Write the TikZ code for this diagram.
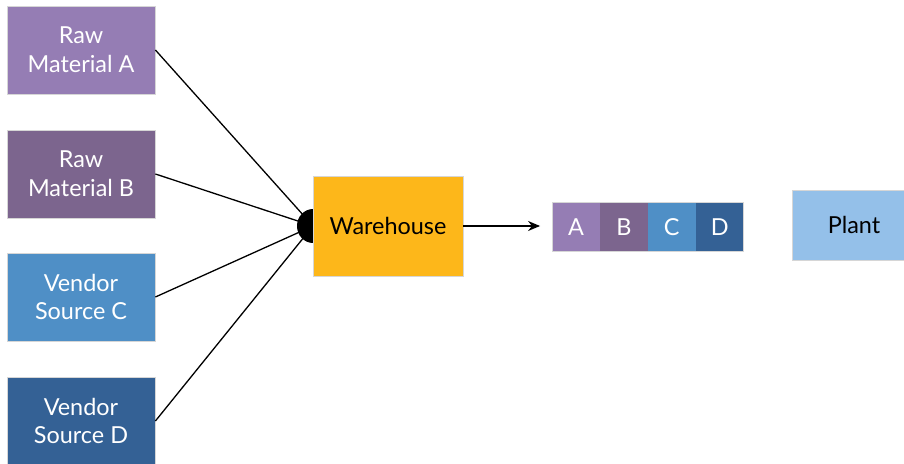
\documentclass[tikz,border=0pt]{standalone}
\usepackage{fontspec}
\setmainfont{Lato}
\usetikzlibrary{arrows.meta}
\definecolor{matA}{HTML}{957DB4}
\definecolor{matB}{HTML}{7C658E}
\definecolor{venC}{HTML}{4F8FC6}
\definecolor{venD}{HTML}{346195}
\definecolor{whouse}{HTML}{FDB71A}
\definecolor{plantc}{HTML}{94C0E9}
\definecolor{edge}{HTML}{D6D6D6}
\tikzset{
  x=1bp, y=-1bp,
  srcbox/.style={draw=edge, line width=0.8bp, minimum width=148bp, minimum height=88bp,
    inner sep=0pt, text=white, align=center, font=\fontsize{23.5}{29}\selectfont},
  cell/.style={minimum width=47.5bp, minimum height=48bp, inner sep=0pt, text=white,
    font=\fontsize{23.5}{26}\selectfont},
  feed/.style={line width=1.3bp, draw=black},
}
\begin{document}
\begin{tikzpicture}
\useasboundingbox (0,0) rectangle (904,464);
\begin{scope}
\clip (0,0) rectangle (904,464);
% sources
\node[srcbox, fill=matA] (ra) at (81,50) {Raw\\Material A};
\node[srcbox, fill=matB] (rb) at (81,174) {Raw\\Material B};
\node[srcbox, fill=venC] (vc) at (81,297) {Vendor\\Source C};
\node[srcbox, fill=venD] (vd) at (81,421) {Vendor\\Source D};
\coordinate (hub) at (313,226);
\foreach \s in {ra,rb,vc,vd} \draw[feed] (\s.east) -- (hub);
\fill[black] (hub) circle [x radius=16bp, y radius=17bp];
% warehouse
\node[draw=edge, line width=0.8bp, fill=whouse, minimum width=150bp, minimum height=100bp,
  inner sep=0pt, font=\fontsize{23.5}{26}\selectfont] (wh) at (388,226) {Warehouse};
% mixed stock strip
\node[cell, fill=matA] (ca) at (576,227) {A};
\node[cell, fill=matB, anchor=west] (cb) at (ca.east) {B};
\node[cell, fill=venC, anchor=west] (cc) at (cb.east) {C};
\node[cell, fill=venD, anchor=west] (cd) at (cc.east) {D};
\draw[edge, line width=0.8bp] (ca.north west) rectangle (cd.south east);
\coordinate (tip) at ([xshift=-12bp]ca.west |- wh.east);
\draw[feed, -{Stealth[length=12bp, width=10bp]}] (wh.east) -- (tip);
% plant (runs past the right edge)
\node[draw=edge, line width=0.8bp, fill=plantc, minimum width=124bp, minimum height=70bp,
  inner sep=0pt, font=\fontsize{23.5}{26}\selectfont] (pl) at (854,225) {Plant};
\end{scope}
\end{tikzpicture}
\end{document}
